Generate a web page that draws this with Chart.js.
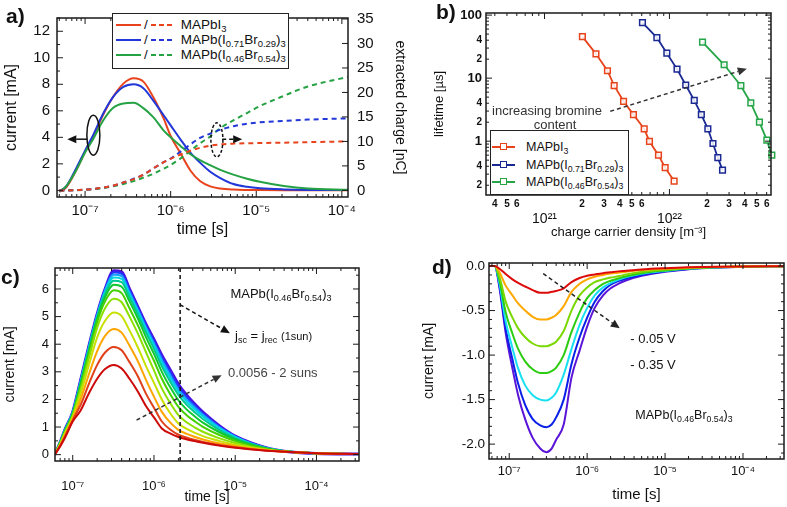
<!DOCTYPE html>
<html>
<head>
<meta charset="utf-8">
<title>Transient photocurrent panels</title>
<script src="https://cdn.jsdelivr.net/npm/chart.js"></script>
<style>
  html, body { margin: 0; background: #fff; }
  #fig { position: relative; width: 787px; height: 507px; overflow: hidden;
         font-family: "Liberation Sans", Arial, sans-serif; color: #111; }
  #fig canvas { position: absolute; }
  .txt { position: absolute; white-space: nowrap; line-height: 1; z-index: 2; }
  .txt sub, .row sub { font-size: 70%; vertical-align: -0.35em; line-height: 0; }
  .ctr { transform: translate(-50%, -50%); }
  .mid { transform: translateY(-50%); }
  .panel { font-weight: bold; font-size: 21px; }
  .legend { position: absolute; background: #fff; box-sizing: border-box; z-index: 2; }
  .row { position: absolute; left: 0; display: flex; align-items: center; white-space: nowrap; line-height: 1; }
  .solid { width: 25px; height: 2px; margin-left: 3px; }
  .dash { width: 24px; height: 2px; }
  .samp { position: relative; width: 23px; height: 8px; display: inline-block; }
  .samp::before { content: ''; position: absolute; left: 0; right: 0; top: 3px; height: 2px; background: var(--c); }
  .samp i { position: absolute; left: 8px; top: 0; width: 5px; height: 5px; border: 1.5px solid var(--c); background: #fff; }
</style>
</head>
<body>
<div id="fig">
  <canvas id="ca" width="415" height="240" style="left:0;top:0"></canvas>
  <canvas id="cb" width="372" height="240" style="left:415px;top:0"></canvas>
  <canvas id="cc" width="390" height="267" style="left:0;top:240px"></canvas>
  <canvas id="cd" width="397" height="267" style="left:390px;top:240px"></canvas>

  <div class="txt panel" style="left:6px;top:5px">a)</div>
  <div class="txt panel" style="left:436px;top:1px">b)</div>
  <div class="txt panel" style="left:1px;top:266px">c)</div>
  <div class="txt panel" style="left:432px;top:256px">d)</div>

  <!-- legend a -->
  <div class="legend" style="left:112px;top:13px;width:177px;height:56px;border:1px solid #222;font-size:13.5px">
    <div class="row" style="top:3px;height:15px">
      <span class="solid" style="background:#e8431c"></span><span style="margin:0 3px">/</span>
      <span class="dash" style="background:repeating-linear-gradient(90deg,#e8431c 0 5px,transparent 5px 8px)"></span>
      <span style="margin-left:6px">MAPbI<sub>3</sub></span>
    </div>
    <div class="row" style="top:18px;height:15px">
      <span class="solid" style="background:#2137d8"></span><span style="margin:0 3px">/</span>
      <span class="dash" style="background:repeating-linear-gradient(90deg,#2137d8 0 5px,transparent 5px 8px)"></span>
      <span style="margin-left:6px">MAPb(I<sub>0.71</sub>Br<sub>0.29</sub>)<sub>3</sub></span>
    </div>
    <div class="row" style="top:33px;height:15px">
      <span class="solid" style="background:#25a244"></span><span style="margin:0 3px">/</span>
      <span class="dash" style="background:repeating-linear-gradient(90deg,#25a244 0 5px,transparent 5px 8px)"></span>
      <span style="margin-left:6px">MAPb(I<sub>0.46</sub>Br<sub>0.54</sub>)<sub>3</sub></span>
    </div>
  </div>

  <!-- legend b -->
  <div class="legend" style="left:490px;top:130px;width:139px;height:65px;border:1.5px solid #222;font-size:12.5px">
    <div class="row" style="top:8px;height:16px"><span class="samp" style="--c:#e8441c;margin-left:1px"><i></i></span><span style="margin-left:11px">MAPbI<sub>3</sub></span></div>
    <div class="row" style="top:26px;height:16px"><span class="samp" style="--c:#1a2893;margin-left:1px"><i></i></span><span style="margin-left:11px">MAPb(I<sub>0.71</sub>Br<sub>0.29</sub>)<sub>3</sub></span></div>
    <div class="row" style="top:43px;height:16px"><span class="samp" style="--c:#26a547;margin-left:1px"><i></i></span><span style="margin-left:11px">MAPb(I<sub>0.46</sub>Br<sub>0.54</sub>)<sub>3</sub></span></div>
  </div>
  <div class="txt ctr" style="left:547px;top:110px;font-size:13px;color:#333">increasing bromine</div>
  <div class="txt ctr" style="left:555px;top:124px;font-size:13px;color:#333">content</div>

  <!-- panel c notes -->
  <div class="txt ctr" style="left:281px;top:293px;font-size:13px">MAPb(I<sub>0.46</sub>Br<sub>0.54</sub>)<sub>3</sub></div>
  <div class="txt mid" style="left:235px;top:335px;font-size:13px">j<sub>sc</sub> = j<sub>rec</sub> <span style="font-size:11px">(1sun)</span></div>
  <div class="txt mid" style="left:228px;top:372px;font-size:13px;color:#444">0.0056 - 2 suns</div>

  <!-- panel d notes -->
  <div class="txt ctr" style="left:653px;top:338px;font-size:13px">- 0.05 V</div>
  <div class="txt ctr" style="left:653px;top:350px;font-size:13px">-</div>
  <div class="txt ctr" style="left:653px;top:364px;font-size:13px">- 0.35 V</div>
  <div class="txt ctr" style="left:684px;top:415px;font-size:12.5px">MAPb(I<sub>0.46</sub>Br<sub>0.54</sub>)<sub>3</sub></div>
</div>

<script>
// ---------- panel a: current (mA) and extracted charge (nC) vs time (s) ----------
const timeA = [5e-8, 6e-8, 8e-8, 1e-7, 1.25e-7, 1.6e-7, 2.1e-7, 2.8e-7, 3.7e-7, 4.8e-7, 6.3e-7, 8.2e-7,
               1e-6, 1.3e-6, 1.7e-6, 2.2e-6, 2.9e-6, 3.8e-6, 5.4e-6, 7.8e-6, 1.1e-5, 2.1e-5, 4e-5, 1.2e-4];
const currentI3   = [-0.1, 0.2, 1.6, 2.9, 4.05, 5.6, 7.0, 8.05, 8.45, 8.2, 7.0, 5.48,
                     4.1, 2.8, 1.5, 0.7, 0.3, 0.14, 0.06, 0.03, 0.02, 0.01, 0.01, 0.01];
const currentBr29 = [-0.1, 0.3, 1.75, 3.0, 4.2, 5.7, 7.0, 7.8, 8.0, 7.7, 6.75, 5.7,
                     4.9, 3.85, 2.85, 2.1, 1.4, 0.93, 0.48, 0.27, 0.16, 0.07, 0.03, 0.02];
const currentBr54 = [-0.1, 0.3, 1.6, 2.85, 3.9, 5.2, 6.2, 6.55, 6.6, 6.2, 5.5, 4.55,
                     4.0, 3.35, 2.72, 2.28, 1.9, 1.55, 1.19, 0.88, 0.65, 0.33, 0.14, 0.05];
const chargeI3    = [0, 0, 0.05, 0.15, 0.3, 0.55, 0.95, 1.6, 2.3, 3.2, 4.5, 5.7,
                     6.45, 7.3, 8.1, 8.7, 9.15, 9.4, 9.55, 9.62, 9.67, 9.75, 9.85, 10.0];
const chargeBr29  = [0, 0, 0.05, 0.15, 0.3, 0.55, 0.95, 1.6, 2.4, 3.2, 4.5, 5.7,
                     6.5, 7.9, 9.4, 10.7, 11.6, 12.4, 13.1, 13.6, 13.9, 14.2, 14.45, 14.7];
const chargeBr54  = [0, 0, 0.05, 0.12, 0.25, 0.45, 0.8, 1.3, 1.9, 2.6, 3.4, 4.4,
                     5.2, 6.5, 8.1, 9.6, 11.0, 12.7, 14.3, 15.8, 17.2, 19.3, 21.2, 23.2];

// ---------- panel b: lifetime (us) vs charge carrier density (m^-3) ----------
const densityI3   = [2.01e21, 2.58e21, 3.19e21, 3.61e21, 4.29e21, 5.15e21, 6.28e21, 6.92e21, 8.17e21, 9.24e21, 1.09e22];
const lifetimeI3  = [45.6, 24.3, 13.1, 7.59, 4.29, 2.64, 1.57, 0.99, 0.60, 0.38, 0.233];
const densityBr29 = [6.08e21, 7.93e21, 9.53e21, 1.15e22, 1.35e22, 1.58e22, 1.80e22, 2.03e22, 2.23e22, 2.44e22, 2.66e22];
const lifetimeBr29 = [75.8, 44, 24.9, 13.9, 7.78, 4.44, 2.64, 1.57, 0.92, 0.547, 0.348];
const densityBr54 = [1.84e22, 2.74e22, 3.73e22, 4.48e22, 5.25e22, 6.02e22, 6.6e22, 6.7e22];
const lifetimeBr54 = [37.2, 16.3, 7.59, 4.04, 2.0, 1.04, 0.6, 0.55];

// ---------- panel c: current (mA) vs time, 0.0056 - 2 suns ----------
const timeC = [6e-8, 7e-8, 8e-8, 1e-7, 1.25e-7, 1.6e-7, 2e-7, 2.5e-7, 3.2e-7, 4e-7, 5e-7, 6.3e-7, 8e-7,
               1e-6, 1.25e-6, 1.6e-6, 2e-6, 2.5e-6, 3.2e-6, 4e-6, 6.3e-6, 1e-5, 1.6e-5, 3.2e-5, 1e-4, 3.3e-4];
const light01 = [0, 0.3, 0.6, 1.2, 1.6, 2.25, 2.75, 3.1, 3.25, 3.12, 2.75, 2.3, 1.75, 1.35, 0.95, 0.76, 0.64, 0.56, 0.49, 0.43, 0.33, 0.25, 0.19, 0.12, 0.05, 0.02];
const light02 = [0, 0.32, 0.65, 1.25, 1.8, 2.6, 3.25, 3.7, 3.9, 3.78, 3.35, 2.85, 2.2, 1.7, 1.2, 0.9, 0.72, 0.62, 0.53, 0.46, 0.35, 0.27, 0.2, 0.12, 0.05, 0.02];
const light03 = [0, 0.35, 0.7, 1.3, 2.0, 2.95, 3.75, 4.3, 4.55, 4.42, 3.95, 3.4, 2.7, 2.1, 1.55, 1.15, 0.9, 0.76, 0.64, 0.55, 0.41, 0.31, 0.22, 0.13, 0.05, 0.02];
const light04 = [0, 0.38, 0.75, 1.35, 2.2, 3.3, 4.25, 4.85, 5.15, 5.02, 4.5, 3.9, 3.2, 2.6, 2.0, 1.48, 1.13, 0.94, 0.79, 0.67, 0.5, 0.36, 0.25, 0.13, 0.05, 0.02];
const light05 = [0, 0.4, 0.8, 1.4, 2.35, 3.55, 4.6, 5.3, 5.65, 5.52, 5.0, 4.4, 3.7, 3.05, 2.4, 1.85, 1.43, 1.18, 0.98, 0.83, 0.6, 0.42, 0.28, 0.14, 0.05, 0.02];
const light06 = [0, 0.42, 0.82, 1.45, 2.45, 3.7, 4.8, 5.55, 5.95, 5.85, 5.3, 4.7, 4.0, 3.4, 2.75, 2.17, 1.73, 1.44, 1.2, 1.01, 0.72, 0.49, 0.32, 0.15, 0.05, 0.02];
const light07 = [0, 0.43, 0.85, 1.48, 2.55, 3.8, 4.9, 5.7, 6.15, 6.08, 5.55, 4.95, 4.25, 3.65, 3.0, 2.42, 1.97, 1.65, 1.38, 1.16, 0.82, 0.55, 0.35, 0.16, 0.05, 0.02];
const light08 = [0, 0.44, 0.87, 1.5, 2.6, 3.88, 4.98, 5.82, 6.3, 6.25, 5.7, 5.1, 4.42, 3.83, 3.2, 2.62, 2.16, 1.82, 1.53, 1.29, 0.9, 0.6, 0.38, 0.16, 0.05, 0.02];
const light09 = [0, 0.44, 0.88, 1.52, 2.63, 3.93, 5.02, 5.9, 6.42, 6.37, 5.8, 5.2, 4.53, 3.95, 3.33, 2.75, 2.28, 1.93, 1.63, 1.38, 0.96, 0.63, 0.39, 0.17, 0.05, 0.02];
const light10 = [0, 0.45, 0.89, 1.53, 2.66, 3.96, 5.06, 5.95, 6.52, 6.47, 5.88, 5.26, 4.6, 4.03, 3.43, 2.85, 2.36, 2.01, 1.7, 1.44, 1.0, 0.65, 0.4, 0.17, 0.05, 0.02];
const light11 = [0, 0.45, 0.9, 1.54, 2.68, 3.98, 5.08, 5.98, 6.6, 6.55, 5.95, 5.32, 4.66, 4.1, 3.52, 2.96, 2.46, 2.09, 1.76, 1.49, 1.03, 0.66, 0.41, 0.17, 0.04, 0.02];
const light12 = [0, 0.45, 0.9, 1.55, 2.7, 4.0, 5.1, 6.0, 6.66, 6.62, 6.0, 5.37, 4.72, 4.17, 3.6, 3.05, 2.55, 2.17, 1.82, 1.54, 1.06, 0.67, 0.42, 0.17, 0.04, 0.02];
const lightColors = ['#cc0a0a', '#e0401a', '#ffa500', '#c8e000', '#8ce000', '#44d000',
                     '#10c830', '#00c890', '#00d8e0', '#1aa0ff', '#1a40ff', '#4a12e0'];

// ---------- panel d: current (mA) vs time, -0.05 ... -0.35 V ----------
const timeD = [5.5e-8, 6.5e-8, 7.5e-8, 9e-8, 1.1e-7, 1.3e-7, 1.6e-7, 2e-7, 2.5e-7, 3e-7, 3.5e-7, 4e-7, 5e-7, 6.3e-7,
               8e-7, 1e-6, 1.25e-6, 1.6e-6, 2e-6, 2.5e-6, 3.2e-6, 5e-6, 1e-5, 2e-5, 5e-5, 1e-4, 3.3e-4];
const bias005 = [0, 0, -0.03, -0.09, -0.15, -0.19, -0.23, -0.27, -0.3, -0.3, -0.29, -0.28, -0.25, -0.18, -0.135, -0.11, -0.095, -0.08, -0.07, -0.06, -0.053, -0.038, -0.024, -0.014, -0.007, -0.004, -0.002];
const bias010 = [0, 0, -0.07, -0.22, -0.33, -0.42, -0.5, -0.57, -0.6, -0.6, -0.58, -0.55, -0.45, -0.29, -0.2, -0.15, -0.12, -0.1, -0.085, -0.075, -0.063, -0.045, -0.03, -0.018, -0.008, -0.004, -0.002];
const bias015 = [0, 0, -0.12, -0.4, -0.58, -0.7, -0.8, -0.87, -0.9, -0.9, -0.88, -0.85, -0.73, -0.5, -0.33, -0.24, -0.18, -0.15, -0.13, -0.115, -0.095, -0.065, -0.04, -0.022, -0.01, -0.005, -0.002];
const bias020 = [0, 0, -0.16, -0.52, -0.76, -0.93, -1.07, -1.16, -1.2, -1.2, -1.18, -1.14, -1.0, -0.74, -0.52, -0.36, -0.27, -0.2, -0.165, -0.14, -0.115, -0.08, -0.05, -0.028, -0.013, -0.006, -0.002];
const bias025 = [0, 0, -0.2, -0.62, -0.92, -1.15, -1.34, -1.45, -1.5, -1.51, -1.48, -1.42, -1.22, -0.93, -0.66, -0.47, -0.33, -0.24, -0.19, -0.155, -0.125, -0.088, -0.055, -0.03, -0.014, -0.007, -0.002];
const bias030 = [0, 0, -0.22, -0.7, -1.05, -1.32, -1.56, -1.72, -1.79, -1.81, -1.78, -1.7, -1.5, -1.1, -0.8, -0.58, -0.4, -0.28, -0.21, -0.17, -0.14, -0.1, -0.06, -0.033, -0.015, -0.008, -0.002];
const bias035 = [0, 0, -0.25, -0.75, -1.15, -1.45, -1.72, -1.93, -2.05, -2.09, -2.05, -1.95, -1.78, -1.25, -0.95, -0.68, -0.47, -0.33, -0.25, -0.2, -0.16, -0.11, -0.065, -0.035, -0.016, -0.008, -0.002];
const biasColors = ['#dd0a0a', '#ffa800', '#7ad800', '#2ccc10', '#18e0f0', '#0a20e8', '#5a14d8'];

// ---------- helpers ----------
Chart.defaults.font.family = '"Liberation Sans", Arial, sans-serif';
Chart.defaults.color = '#111';

const SUP = {'-': '\u207B', '0': '\u2070', '1': '\u00B9', '2': '\u00B2', '3': '\u00B3', '4': '\u2074',
             '5': '\u2075', '6': '\u2076', '7': '\u2077', '8': '\u2078', '9': '\u2079'};
const sup = n => String(n).split('').map(c => SUP[c]).join('');
const pts = (xs, ys) => xs.map((x, i) => ({x: x, y: ys[i]}));

function logTicks(lo, hi, labelFn) {
  const out = [];
  for (let e = Math.floor(Math.log10(lo)); e <= Math.ceil(Math.log10(hi)); e++) {
    for (let k = 1; k <= 9; k++) {
      const v = k * Math.pow(10, e);
      if (v < lo * 0.999 || v > hi * 1.001) continue;
      out.push({value: v, major: k === 1, text: labelFn(k, e)});
    }
  }
  return out;
}
function linTicks(i0, i1, div, majorEvery, fmt) {
  const out = [];
  for (let i = i0; i <= i1; i++) {
    const v = i / div, major = i % majorEvery === 0;
    out.push({value: v, major: major, text: major ? fmt(v) : ''});
  }
  return out;
}

function axis(type, pos, min, max, ticks, o) {
  return {
    type: type, position: pos, min: min, max: max, bounds: 'data',
    grid: {display: false, drawTicks: false}, border: {display: false},
    afterBuildTicks: s => { s.ticks = ticks.map(t => Object.assign({}, t)); },
    afterFit: s => { if (s.isHorizontal()) s.height = o.size; else s.width = o.size; },
    ticks: {
      autoSkip: false, maxRotation: 0, minRotation: 0, padding: o.pad, color: '#111',
      font: c => (c.tick && c.tick.major ? o.majorFont : (o.minorFont || o.majorFont)),
      callback: (v, i, ts) => ts[i].text
    },
    title: {display: !!o.title, text: o.title, color: '#111', font: o.titleFont, padding: o.titlePad}
  };
}

function base(extra) {
  return Object.assign({
    animation: false, responsive: false, devicePixelRatio: 1, events: [],
    elements: {point: {radius: 0}, line: {borderWidth: 2, cubicInterpolationMode: 'monotone'}},
    plugins: {legend: {display: false}, tooltip: {enabled: false}}
  }, extra);
}

// decorations: arrows, ellipses, dashed marker line, frame with inward ticks
const decor = {
  ca: {
    ellipses: [{x: 1.25e-7, y: 4.16, rx: 6.5, ry: 20, dash: false},
               {x: 3.47e-6, y: 3.81, rx: 6, ry: 17, dash: true}],
    arrows: [{from: [1.055e-7, 3.86], to: [6.2e-8, 3.86], dash: false, color: '#111'},
             {from: [4e-6, 3.86], to: [6.85e-6, 3.86], dash: true, color: '#111'}],
    ticks: [['x', 'bt'], ['y', 'l'], ['y2', 'r']]
  },
  cb: {
    arrows: [{from: [3.36e21, 2.98], to: [4.16e22, 14.1], dash: true, color: '#333'}],
    ticks: [['x', 'bt'], ['y', 'lr']]
  },
  cc: {
    vlines: [2.1e-6],
    arrows: [{from: [2.09e-6, 5.43], to: [8.6e-6, 4.4], dash: true, color: '#111'},
             {from: [6.1e-7, 1.25], to: [6.8e-6, 2.88], dash: true, color: '#333'}],
    ticks: [['x', 'bt'], ['y', 'lr']]
  },
  cd: {
    arrows: [{from: [2.73e-7, -0.085], to: [2.62e-6, -0.70], dash: true, color: '#222'}],
    ticks: [['x', 'bt'], ['y', 'lr']]
  }
};

Chart.register({
  id: 'deco',
  afterDatasetsDraw(chart) {
    const spec = decor[chart.canvas.id];
    if (!spec) return;
    const ctx = chart.ctx, a = chart.chartArea, sx = chart.scales.x;
    ctx.save();
    (spec.vlines || []).forEach(v => {
      const x = sx.getPixelForValue(v);
      ctx.strokeStyle = '#111'; ctx.lineWidth = 1.5; ctx.setLineDash([4, 3]);
      ctx.beginPath(); ctx.moveTo(x, a.top); ctx.lineTo(x, a.bottom); ctx.stroke();
    });
    (spec.ellipses || []).forEach(e => {
      const sy = chart.scales.y;
      ctx.strokeStyle = '#111'; ctx.lineWidth = 1.5; ctx.setLineDash(e.dash ? [3, 2] : []);
      ctx.beginPath();
      ctx.ellipse(sx.getPixelForValue(e.x), sy.getPixelForValue(e.y), e.rx, e.ry, 0, 0, Math.PI * 2);
      ctx.stroke();
    });
    (spec.arrows || []).forEach(ar => {
      const sy = chart.scales.y;
      const x1 = sx.getPixelForValue(ar.from[0]), y1 = sy.getPixelForValue(ar.from[1]);
      const x2 = sx.getPixelForValue(ar.to[0]), y2 = sy.getPixelForValue(ar.to[1]);
      const ang = Math.atan2(y2 - y1, x2 - x1), hl = 9, hw = 4;
      const bx = x2 - hl * Math.cos(ang), by = y2 - hl * Math.sin(ang);
      ctx.strokeStyle = ar.color; ctx.fillStyle = ar.color; ctx.lineWidth = 1.5;
      ctx.setLineDash(ar.dash ? [4, 3] : []);
      ctx.beginPath(); ctx.moveTo(x1, y1); ctx.lineTo(bx, by); ctx.stroke();
      ctx.setLineDash([]);
      ctx.beginPath(); ctx.moveTo(x2, y2);
      ctx.lineTo(bx + hw * Math.sin(ang), by - hw * Math.cos(ang));
      ctx.lineTo(bx - hw * Math.sin(ang), by + hw * Math.cos(ang));
      ctx.closePath(); ctx.fill();
    });
    ctx.setLineDash([]);
    ctx.strokeStyle = '#1a1a1a'; ctx.lineWidth = 1.5;
    ctx.strokeRect(a.left, a.top, a.right - a.left, a.bottom - a.top);
    ctx.lineWidth = 1;
    spec.ticks.forEach(([id, sides]) => {
      const s = chart.scales[id];
      s.ticks.forEach(t => {
        const p = s.getPixelForValue(t.value), len = t.major ? 6 : 3;
        ctx.beginPath();
        if (sides.includes('b')) { ctx.moveTo(p, a.bottom); ctx.lineTo(p, a.bottom - len); }
        if (sides.includes('t')) { ctx.moveTo(p, a.top); ctx.lineTo(p, a.top + len); }
        if (sides.includes('l')) { ctx.moveTo(a.left, p); ctx.lineTo(a.left + len, p); }
        if (sides.includes('r')) { ctx.moveTo(a.right, p); ctx.lineTo(a.right - len, p); }
        ctx.stroke();
      });
    });
    ctx.restore();
  }
});

const tenPow = (k, e) => (k === 1 ? '10' + sup(e) : '');

// ---------- panel a ----------
const solid = (xs, ys, c) => ({data: pts(xs, ys), borderColor: c, yAxisID: 'y'});
const dashed = (xs, ys, c) => ({data: pts(xs, ys), borderColor: c, yAxisID: 'y2', borderDash: [5, 4]});
new Chart(document.getElementById('ca'), {
  type: 'line',
  data: {datasets: [
    dashed(timeA, chargeI3, '#e8431c'), dashed(timeA, chargeBr29, '#2137d8'), dashed(timeA, chargeBr54, '#25a244'),
    solid(timeA, currentBr54, '#25a244'), solid(timeA, currentBr29, '#2137d8'), solid(timeA, currentI3, '#e8431c')
  ]},
  options: base({
    layout: {padding: {top: 8}},
    scales: {
      x: axis('logarithmic', 'bottom', 4.7e-8, 1.18e-4, logTicks(4.7e-8, 1.18e-4, tenPow),
        {size: 43, pad: 5, majorFont: {size: 15}, title: 'time [s]', titleFont: {size: 16}, titlePad: {top: 0, bottom: 1}}),
      y: axis('linear', 'left', -0.5, 13, linTicks(0, 13, 1, 2, v => String(v)),
        {size: 57, pad: 7, majorFont: {size: 15}, title: 'current [mA]', titleFont: {size: 16}, titlePad: {top: 2, bottom: 0}}),
      y2: axis('linear', 'right', -1.35, 35.2, linTicks(0, 7, 0.2, 1, v => String(Math.round(v))),
        {size: 67, pad: 9, majorFont: {size: 15}, title: 'extracted charge [nC]', titleFont: {size: 14}, titlePad: {top: 7, bottom: 0}})
    }
  })
});

// ---------- panel b ----------
const marked = (xs, ys, c) => ({
  data: pts(xs, ys), borderColor: c, borderWidth: 1.8, cubicInterpolationMode: 'default', tension: 0,
  pointStyle: 'rect', pointRadius: 4, pointBorderWidth: 1.5, pointBorderColor: c,
  pointBackgroundColor: 'rgba(255,255,255,0.85)', clip: false
});
new Chart(document.getElementById('cb'), {
  type: 'line',
  data: {datasets: [
    marked(densityI3, lifetimeI3, '#e8441c'),
    marked(densityBr29, lifetimeBr29, '#1a2893'),
    marked(densityBr54, lifetimeBr54, '#26a547')
  ]},
  options: base({
    layout: {padding: {top: 13, right: 16}},
    scales: {
      x: axis('logarithmic', 'bottom', 3.4e20, 6.5e22,
        logTicks(3.4e20, 6.5e22, (k, e) => (k === 1 ? ['', '10' + sup(e)] : (k <= 6 ? String(k) : ''))),
        {size: 45, pad: 3, majorFont: {size: 14, lineHeight: 1}, minorFont: {size: 10, weight: 'bold'},
         title: 'charge carrier density [m\u207B\u00B3]', titleFont: {size: 13}, titlePad: {top: 0, bottom: 0}}),
      y: axis('logarithmic', 'left', 0.14, 108,
        logTicks(0.14, 108, (k, e) => (k === 1 ? String(Math.round(Math.pow(10, e))) : (k === 2 || k === 4 ? String(k) : ''))),
        {size: 71, pad: 4, majorFont: {size: 13, weight: 'bold'}, minorFont: {size: 10, weight: 'bold'},
         title: 'lifetime [\u00B5s]', titleFont: {size: 13}, titlePad: {top: 17, bottom: 0}})
    }
  })
});

// ---------- panel c ----------
const lightSeries = [light01, light02, light03, light04, light05, light06,
                     light07, light08, light09, light10, light11, light12];
new Chart(document.getElementById('cc'), {
  type: 'line',
  data: {datasets: lightSeries.map((ys, i) => ({
    data: pts(timeC, ys), borderColor: lightColors[i], borderWidth: i === 11 ? 3 : 2
  }))},
  options: base({
    layout: {padding: {top: 28, right: 31}},
    scales: {
      x: axis('logarithmic', 'bottom', 6.05e-8, 3.34e-4, logTicks(6.05e-8, 3.34e-4, tenPow),
        {size: 46, pad: 18, majorFont: {size: 13}, title: 'time [s]', titleFont: {size: 14}, titlePad: {top: 0, bottom: 1}}),
      y: axis('linear', 'left', -0.23, 6.76, linTicks(0, 13, 2, 2, v => String(v)),
        {size: 55, pad: 6, majorFont: {size: 13}, title: 'current [mA]', titleFont: {size: 14}, titlePad: {top: 2, bottom: 0}})
    }
  })
});

// ---------- panel d ----------
const biasSeries = [bias005, bias010, bias015, bias020, bias025, bias030, bias035];
new Chart(document.getElementById('cd'), {
  type: 'line',
  data: {datasets: biasSeries.map((ys, i) => ({
    data: pts(timeD, ys), borderColor: biasColors[i], borderWidth: 2
  }))},
  options: base({
    layout: {padding: {top: 23, right: 3}},
    scales: {
      x: axis('logarithmic', 'bottom', 5.5e-8, 3.36e-4, logTicks(5.5e-8, 3.36e-4, tenPow),
        {size: 48, pad: 5, majorFont: {size: 13}, title: 'time [s]', titleFont: {size: 15}, titlePad: {top: 0, bottom: 3}}),
      y: axis('linear', 'left', -2.167, 0.034, linTicks(-21, 0, 10, 5, v => v.toFixed(1)),
        {size: 99, pad: 4, majorFont: {size: 13.5}, title: 'current [mA]', titleFont: {size: 14}, titlePad: {top: 31, bottom: 0}})
    }
  })
});
</script>
</body>
</html>
